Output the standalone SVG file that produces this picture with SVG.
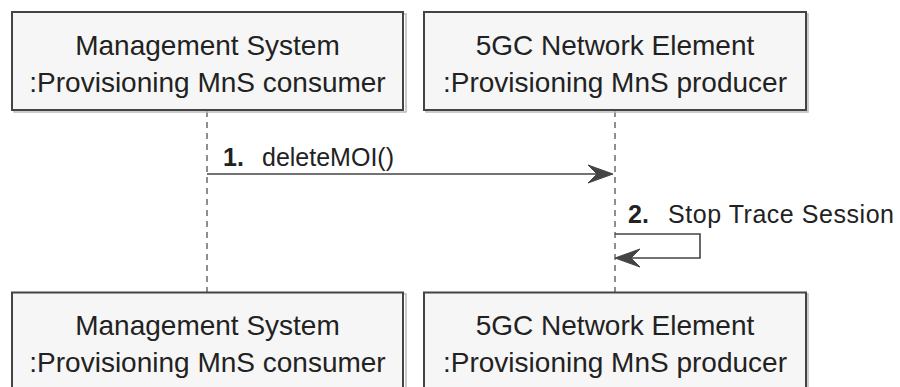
<svg xmlns="http://www.w3.org/2000/svg" width="900" height="387" viewBox="0 0 900 387">
<style>
.box{fill:#f6f6f6;stroke:#444;stroke-width:2}
.shadow{fill:none;stroke:#bbb;stroke-width:1.5}
.t{font-family:"Liberation Sans",Arial,sans-serif;font-size:28px;fill:#222;text-anchor:middle}
.life{stroke:#444;stroke-width:1.2;stroke-dasharray:6 5;fill:none}
.msg{stroke:#444;stroke-width:1.6;fill:none}
.lbl{font-family:"Liberation Sans",Arial,sans-serif;font-size:25px;fill:#222}
.num{font-weight:bold}
.head{fill:#444;stroke:#444;stroke-width:1}
</style>
<g id="connectors">
<line class="life" x1="207" y1="111" x2="207" y2="292"/>
<line class="life" x1="615" y1="111" x2="615" y2="292"/>
<g id="msg1">
<line class="msg" x1="207" y1="174" x2="610" y2="174"/>
<polygon class="head" points="613,174 588,165 597,174 588,183"/>
<text class="lbl" x="223" y="166"><tspan class="num">1.</tspan><tspan x="262">deleteMOI()</tspan></text>
</g>
<g id="msg2">
<polyline class="msg" points="615,234 700,234 700,258 618,258"/>
<polygon class="head" points="615,258 640,249 631,258 640,267"/>
<text class="lbl" x="628" y="223"><tspan class="num">2.</tspan><tspan x="668" textLength="226" lengthAdjust="spacing">Stop Trace Session</tspan></text>
</g>
</g>
<g id="ms-top">
<rect class="shadow" x="14" y="14" width="392" height="98"/>
<rect class="box" x="12" y="12" width="391" height="98"/>
<text class="t" x="207.5" y="55">Management System</text>
<text class="t" x="207.5" y="92">:Provisioning MnS consumer</text>
</g>
<g id="ne-top">
<rect class="shadow" x="426" y="14" width="382" height="98"/>
<rect class="box" x="424" y="12" width="382" height="98"/>
<text class="t" x="615" y="55">5GC Network Element</text>
<text class="t" x="615" y="92">:Provisioning MnS producer</text>
</g>
<g id="ms-bottom">
<rect class="shadow" x="14" y="294" width="392" height="98"/>
<rect class="box" x="12" y="292.5" width="391" height="98"/>
<text class="t" x="207.5" y="335">Management System</text>
<text class="t" x="207.5" y="372">:Provisioning MnS consumer</text>
</g>
<g id="ne-bottom">
<rect class="shadow" x="426" y="294" width="382" height="98"/>
<rect class="box" x="424" y="292.5" width="382" height="98"/>
<text class="t" x="615" y="335">5GC Network Element</text>
<text class="t" x="615" y="372">:Provisioning MnS producer</text>
</g>
</svg>
